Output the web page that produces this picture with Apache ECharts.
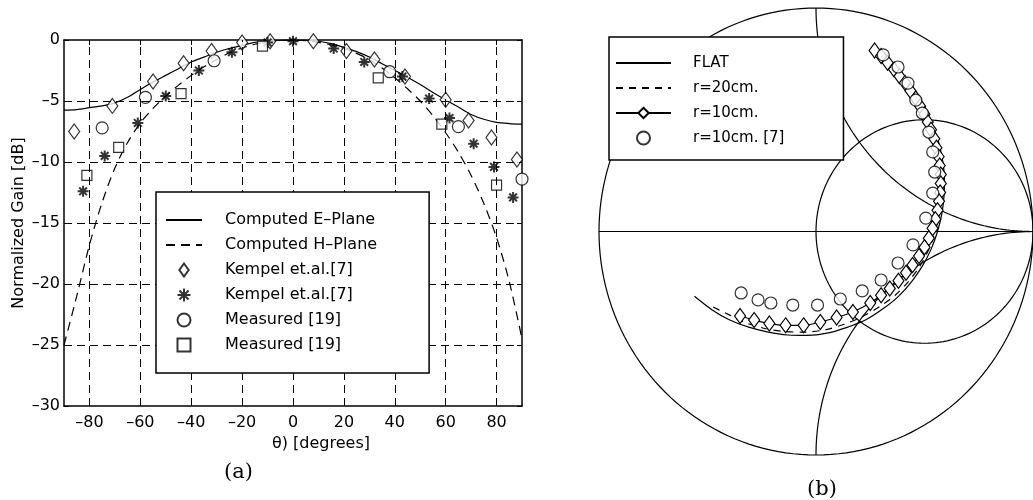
<!DOCTYPE html>
<html>
<head>
<meta charset="UTF-8">
<script src="https://cdn.jsdelivr.net/npm/echarts@6/dist/echarts.min.js"></script>
</head>
<body style="margin:0;background:#fff;">
<div id="main" style="width:1033px;height:500px;"></div>
<script type="text/javascript">
// ---- (a) pattern data ----
var theta = [-90,-85,-80,-75,-70,-65,-60,-55,-50,-45,-40,-35,-30,-25,-20,-15,-10,-5,0,
             5,10,15,20,25,30,35,40,45,50,55,60,65,70,75,80,85,90];
var ePlane = [-5.75,-5.7,-5.55,-5.4,-5.15,-4.7,-4.05,-3.45,-2.9,-2.35,-1.8,-1.4,-1.0,-0.7,-0.45,-0.2,-0.08,-0.02,0,
              -0.02,-0.1,-0.3,-0.6,-0.95,-1.4,-1.95,-2.5,-3.05,-3.65,-4.3,-4.9,-5.5,-6.1,-6.5,-6.75,-6.85,-6.9];
var hPlane = [-25,-21,-16.8,-13.3,-10.5,-8.4,-6.8,-5.6,-4.6,-3.7,-2.9,-2.2,-1.6,-1.05,-0.65,-0.35,-0.15,-0.03,0,
              -0.05,-0.2,-0.4,-0.7,-1.1,-1.6,-2.3,-3.1,-4.0,-5.0,-6.2,-7.6,-9.2,-11.1,-13.4,-16.2,-19.8,-24.5];
var kempelA = [[-86,-7.5],[-71,-5.4],[-55,-3.4],[-43,-1.9],[-32,-0.9],[-20,-0.2],[-9,-0.1],[8,-0.1],
               [21,-0.9],[32,-1.6],[44,-3.0],[60,-4.9],[69,-6.6],[78,-8.0],[88,-9.8]];
var kempelB = [[-82.5,-12.4],[-74,-9.5],[-61,-6.8],[-50,-4.6],[-37,-2.5],[-24,-1.0],[-10,-0.2],[0,-0.1],
               [16,-0.7],[28,-1.8],[43,-3.0],[53.5,-4.8],[61.5,-6.4],[71,-8.5],[79,-10.4],[86.5,-12.9]];
var measuredA = [[-75,-7.2],[-58,-4.7],[-31,-1.7],[38,-2.6],[65,-7.1],[90,-11.4]];
var measuredB = [[-81,-11.1],[-68.5,-8.8],[-44,-4.4],[-12,-0.5],[33.5,-3.1],[58.5,-6.9],[80,-11.9]];
var xTicks = [-80,-60,-40,-20,0,20,40,60,80];
var yTicks = [0,-5,-10,-15,-20,-25,-30];
var legendA = {
    ePlane: 'Computed E\u2013Plane',
    hPlane: 'Computed H\u2013Plane',
    kempelA: 'Kempel et.al.[7]',
    kempelB: 'Kempel et.al.[7]',
    measuredA: 'Measured [19]',
    measuredB: 'Measured [19]'
};

// ---- (b) reflection coefficient [Re, Im] ----
var flat = [[0.265,0.825],[0.33,0.765],[0.39,0.705],[0.445,0.635],[0.495,0.56],[0.535,0.48],[0.565,0.40],
            [0.583,0.32],[0.592,0.24],[0.59,0.16],[0.58,0.08],[0.56,0.0],[0.53,-0.08],[0.49,-0.155],
            [0.44,-0.225],[0.38,-0.29],[0.31,-0.345],[0.23,-0.395],[0.14,-0.43],[0.05,-0.455],[-0.04,-0.465],
            [-0.13,-0.463],[-0.22,-0.45],[-0.31,-0.428],[-0.40,-0.395],[-0.48,-0.35],[-0.56,-0.29]];
var r20 = [[0.27,0.815],[0.335,0.755],[0.395,0.69],[0.45,0.62],[0.495,0.545],[0.53,0.465],[0.555,0.385],
           [0.57,0.305],[0.577,0.225],[0.575,0.145],[0.565,0.065],[0.545,-0.015],[0.515,-0.09],[0.475,-0.16],
           [0.425,-0.225],[0.365,-0.285],[0.295,-0.335],[0.215,-0.38],[0.13,-0.415],[0.04,-0.44],[-0.05,-0.45],
           [-0.14,-0.448],[-0.23,-0.435],[-0.32,-0.41],[-0.40,-0.373],[-0.48,-0.335]];
var r10 = [[0.27,0.81],[0.30,0.785],[0.33,0.755],[0.36,0.725],[0.385,0.695],[0.41,0.665],[0.435,0.63],
           [0.46,0.595],[0.48,0.56],[0.50,0.525],[0.515,0.49],[0.53,0.455],[0.545,0.415],[0.555,0.375],
           [0.565,0.335],[0.57,0.295],[0.575,0.255],[0.575,0.215],[0.572,0.175],[0.567,0.135],[0.56,0.095],
           [0.55,0.055],[0.537,0.015],[0.52,-0.03],[0.50,-0.07],[0.475,-0.11],[0.445,-0.15],[0.415,-0.185],
           [0.38,-0.22],[0.34,-0.255],[0.30,-0.285],[0.25,-0.32],[0.17,-0.36],[0.095,-0.385],[0.02,-0.405],
           [-0.057,-0.42],[-0.14,-0.42],[-0.215,-0.412],[-0.285,-0.396],[-0.35,-0.378]];
var r10ref = [[0.31,0.79],[0.378,0.736],[0.424,0.664],[0.46,0.588],[0.49,0.53],[0.52,0.445],[0.538,0.356],
              [0.547,0.266],[0.538,0.172],[0.506,0.06],[0.447,-0.06],[0.378,-0.141],[0.30,-0.217],
              [0.213,-0.266],[0.112,-0.302],[0.007,-0.329],[-0.107,-0.329],[-0.208,-0.32],[-0.267,-0.306],
              [-0.345,-0.275]];
var legendB = {flat: 'FLAT', r20: 'r=20cm.', r10: 'r=10cm.', r10ref: 'r=10cm. [7]'};

// smith chart grid: unit circle, r=1 circle, x=+1 / x=-1 arcs (center, radius, angle range)
var smithArcs = [[0,0,1,0,360],[0.5,0,0.5,0,360],[1,1,1,180,270],[1,-1,1,90,180]];

function arcPoints(a) {
    var pts = [];
    for (var k = 0; k <= 180; k++) {
        var t = (a[3] + (a[4] - a[3]) * k / 180) * Math.PI / 180;
        pts.push([a[0] + a[2] * Math.cos(t), a[1] + a[2] * Math.sin(t)]);
    }
    return pts;
}
function pairs(xs, ys) {
    return xs.map(function (x, i) { return [x, ys[i]]; });
}
function minus(v) {
    return v < 0 ? '\u2013' + Math.abs(v) : String(v);
}

var FONT = 'DejaVu Sans';
var black = '#000';
var hollow = {color: '#fff', borderColor: black, borderWidth: 1.2};
var star = 'path://M5 0L5 10M0 5L10 5M1.5 1.5L8.5 8.5M8.5 1.5L1.5 8.5';
var diamond = 'path://M5 0L10 7L5 14L0 7Z';
var square = 'path://M0 0L10 0L10 10L0 10Z';
var noMark = {color: 'rgba(0,0,0,0)', borderColor: 'rgba(0,0,0,0)', borderWidth: 0};

var gridMarks = xTicks.map(function (v) { return {xAxis: v}; })
    .concat(yTicks.slice(1, -1).map(function (v) { return {yAxis: v}; }));

var smithSeries = smithArcs.map(function (a) {
    return {
        type: 'line', xAxisIndex: 2, yAxisIndex: 2, data: arcPoints(a), symbol: 'none',
        clip: false, silent: true, lineStyle: {color: black, width: 1.2}, z: 1
    };
});
smithSeries.push({
    type: 'line', xAxisIndex: 2, yAxisIndex: 2, data: [[-1, 0], [1, 0]], symbol: 'none',
    clip: false, silent: true, lineStyle: {color: black, width: 1.2}, z: 1
});

var myChart = echarts.init(document.getElementById('main'));
var option = {
    animation: false,
    backgroundColor: '#fff',
    textStyle: {fontFamily: FONT, color: black},
    title: [
        {text: '(a)', left: 219, top: 457, textStyle: {fontFamily: 'DejaVu Serif', fontWeight: 'normal', fontSize: 21, color: black}},
        {text: '(b)', left: 802, top: 474, textStyle: {fontFamily: 'DejaVu Serif', fontWeight: 'normal', fontSize: 21, color: black}}
    ],
    legend: [
        {
            data: [{name: 'ePlane', itemStyle: noMark}, {name: 'hPlane', itemStyle: noMark},
                   'kempelA', 'kempelB', 'measuredA', 'measuredB'],
            formatter: function (n) { return legendA[n]; },
            orient: 'vertical', left: 156, top: 192, z: 20,
            backgroundColor: '#fff', borderColor: black, borderWidth: 1.5,
            padding: [20, 52, 20, 9], itemWidth: 36, itemHeight: 13, itemGap: 9,
            selectedMode: false, symbolKeepAspect: true,
            textStyle: {fontFamily: FONT, fontSize: 16, lineHeight: 16, color: black, padding: [0, 0, 0, 18]}
        },
        {
            data: [{name: 'flat', itemStyle: noMark}, {name: 'r20', itemStyle: noMark}, 'r10', 'r10ref'],
            formatter: function (n) { return legendB[n]; },
            orient: 'vertical', left: 609, top: 37, z: 20,
            backgroundColor: '#fff', borderColor: black, borderWidth: 1.5,
            padding: [18, 59, 14, 6], itemWidth: 55, itemHeight: 13, itemGap: 9,
            selectedMode: false, symbolKeepAspect: true,
            textStyle: {fontFamily: FONT, fontSize: 15, lineHeight: 16, color: black, padding: [0, 0, 0, 17]}
        }
    ],
    grid: [
        {left: 64, top: 40, width: 458, height: 366},
        {left: 599, top: 8, width: 437, height: 447}
    ],
    xAxis: [
        {
            gridIndex: 0, type: 'value', min: -90, max: 90,
            name: '\u03b8) [degrees]', nameLocation: 'middle', nameGap: 24,
            nameTextStyle: {fontFamily: FONT, fontSize: 16, color: black, padding: [0, 0, 0, 56]},
            axisLine: {onZero: false, lineStyle: {color: black, width: 1.5}},
            axisTick: {inside: true, length: 5, customValues: xTicks, lineStyle: {color: black}},
            axisLabel: {customValues: xTicks, formatter: minus, fontFamily: FONT, fontSize: 16, color: black, margin: 9},
            splitLine: {show: false}
        },
        {
            gridIndex: 0, type: 'value', min: -90, max: 90, position: 'top',
            axisLine: {onZero: false, lineStyle: {color: black, width: 1.5}},
            axisTick: {inside: true, length: 5, customValues: xTicks, lineStyle: {color: black}},
            axisLabel: {show: false}, splitLine: {show: false}
        },
        {gridIndex: 1, type: 'value', min: -1, max: 1, show: false}
    ],
    yAxis: [
        {
            gridIndex: 0, type: 'value', min: -30, max: 0, interval: 5,
            name: 'Normalized Gain [dB]', nameLocation: 'middle', nameGap: 37,
            nameTextStyle: {fontFamily: FONT, fontSize: 16, color: black},
            axisLine: {onZero: false, lineStyle: {color: black, width: 1.5}},
            axisTick: {inside: true, length: 5, lineStyle: {color: black}},
            axisLabel: {formatter: minus, fontFamily: FONT, fontSize: 16, color: black, margin: 4},
            splitLine: {show: false}
        },
        {
            gridIndex: 0, type: 'value', min: -30, max: 0, interval: 5, position: 'right',
            axisLine: {onZero: false, lineStyle: {color: black, width: 1.5}},
            axisTick: {inside: true, length: 5, lineStyle: {color: black}},
            axisLabel: {show: false}, splitLine: {show: false}
        },
        {gridIndex: 1, type: 'value', min: -1, max: 1, show: false}
    ],
    series: [
        {
            name: 'ePlane', type: 'line', data: pairs(theta, ePlane), symbol: 'none', smooth: 0.3,
            lineStyle: {color: black, width: 1.2}, itemStyle: {color: black},
            markLine: {
                silent: true, symbol: ['none', 'none'], label: {show: false},
                lineStyle: {color: black, width: 1, type: [8, 5]}, data: gridMarks
            }
        },
        {
            name: 'hPlane', type: 'line', data: pairs(theta, hPlane), symbol: 'none', smooth: 0.3,
            lineStyle: {color: black, width: 1.2, type: [9, 6]}, itemStyle: {color: black}
        },
        {name: 'kempelA', type: 'scatter', data: kempelA, symbol: diamond, symbolSize: [11, 15], itemStyle: hollow, z: 3},
        {name: 'kempelB', type: 'scatter', data: kempelB, symbol: star, symbolSize: 11,
            itemStyle: {color: black, borderColor: black, borderWidth: 2}, z: 3},
        {name: 'measuredA', type: 'scatter', data: measuredA, symbol: 'circle', symbolSize: 12, itemStyle: hollow, z: 3},
        {name: 'measuredB', type: 'scatter', data: measuredB, symbol: square, symbolSize: 10, itemStyle: hollow, z: 3}
    ].concat(smithSeries).concat([
        {
            name: 'flat', type: 'line', xAxisIndex: 2, yAxisIndex: 2, data: flat, symbol: 'none', smooth: 0.3,
            clip: false, lineStyle: {color: black, width: 1.2}, itemStyle: {color: black}
        },
        {
            name: 'r20', type: 'line', xAxisIndex: 2, yAxisIndex: 2, data: r20, symbol: 'none', smooth: 0.3,
            clip: false, lineStyle: {color: black, width: 1.2, type: [7, 6]}, itemStyle: {color: black}
        },
        {
            name: 'r10', type: 'line', xAxisIndex: 2, yAxisIndex: 2, data: r10, symbol: diamond, symbolSize: [11, 15],
            showAllSymbol: true, smooth: 0.3, clip: false,
            lineStyle: {color: black, width: 1.2}, itemStyle: hollow, z: 3
        },
        {
            name: 'r10ref', type: 'scatter', xAxisIndex: 2, yAxisIndex: 2, data: r10ref, symbol: 'circle',
            symbolSize: 12, clip: false, itemStyle: hollow, z: 3
        }
    ])
};
myChart.setOption(option);
</script>
</body>
</html>
